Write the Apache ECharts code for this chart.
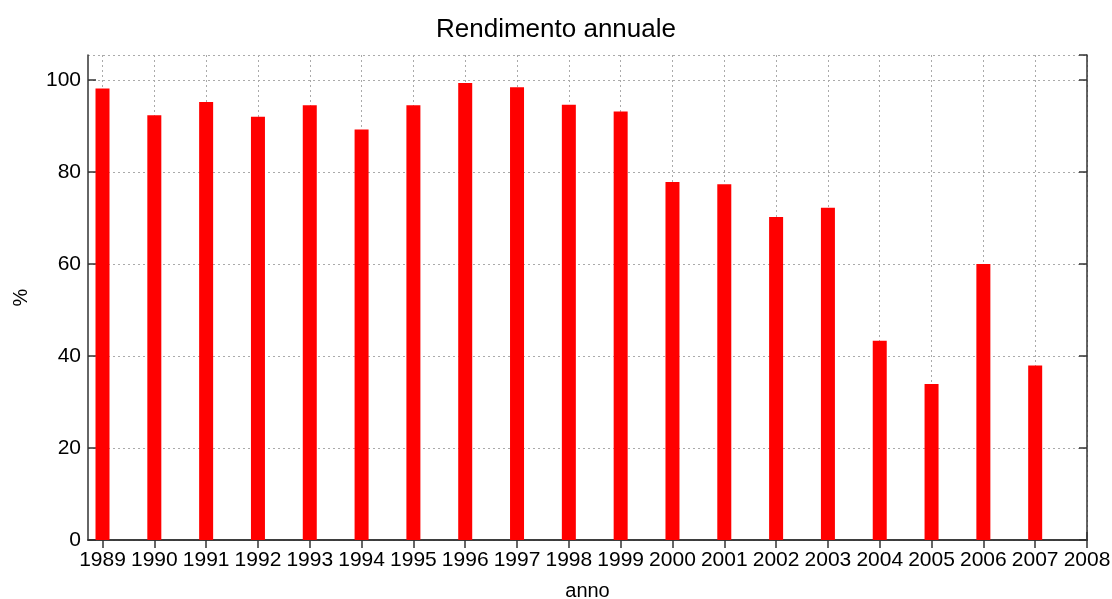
<!DOCTYPE html>
<html>
<head>
<meta charset="utf-8">
<script src="https://cdn.jsdelivr.net/npm/echarts@6/dist/echarts.min.js"></script>
<style>
  html, body { margin: 0; padding: 0; background: #fff; }
  #chart { width: 1112px; height: 599px; }
</style>
</head>
<body>
<div id="chart"></div>
<script>
// anni e rendimento (%)
var years = [1989, 1990, 1991, 1992, 1993, 1994, 1995, 1996, 1997, 1998,
             1999, 2000, 2001, 2002, 2003, 2004, 2005, 2006, 2007];
var rendimento = [98.1, 92.3, 95.2, 92.0, 94.5, 89.2, 94.5, 99.3, 98.4, 94.6,
                  93.1, 77.8, 77.3, 70.2, 72.2, 43.3, 33.9, 60.0, 37.9];
var xTicks = [1989, 1990, 1991, 1992, 1993, 1994, 1995, 1996, 1997, 1998, 1999,
              2000, 2001, 2002, 2003, 2004, 2005, 2006, 2007, 2008];

var font = 'Liberation Sans, Arial, sans-serif';
var axisColor = '#333';

var barData = years.map(function (y, i) { return [y, rendimento[i]]; });

var chart = echarts.init(document.getElementById('chart'));
chart.setOption({
  animation: false,
  title: {
    text: 'Rendimento annuale',
    left: 'center',
    top: 12,
    textStyle: { fontFamily: font, fontSize: 26, fontWeight: 'normal', color: '#000' }
  },
  grid: { left: 88, right: 25, top: 55, bottom: 59, outerBoundsMode: 'none' },
  xAxis: [
    {
      type: 'value',
      min: 1988.72,
      max: 2008,
      name: 'anno',
      nameLocation: 'middle',
      nameGap: 41,
      nameTextStyle: { fontFamily: font, fontSize: 20, color: '#000' },
      axisLine: { lineStyle: { color: axisColor, width: 1.5 } },
      axisTick: { inside: true, length: 8, customValues: xTicks, lineStyle: { color: axisColor, width: 1.5 } },
      axisLabel: {
        customValues: xTicks,
        margin: 10,
        fontFamily: font, fontSize: 21, color: '#000',
        formatter: function (v) { return String(Math.round(v)); }
      },
      splitLine: { show: true, lineStyle: { color: '#aaa', type: [2, 3], width: 1 } }
    },
    {
      type: 'value',
      position: 'top',
      min: 1988.72,
      max: 2008,
      axisLine: { show: true, lineStyle: { color: axisColor, width: 1.5 } },
      axisTick: { inside: true, length: 8, customValues: xTicks, lineStyle: { color: axisColor, width: 1.5 } },
      axisLabel: { show: false },
      splitLine: { show: false }
    }
  ],
  yAxis: [
    {
      type: 'value',
      min: 0,
      max: 105.4,
      interval: 20,
      name: '%',
      nameLocation: 'middle',
      nameGap: 57,
      nameTextStyle: { fontFamily: font, fontSize: 20, color: '#000' },
      axisLine: { show: true, lineStyle: { color: axisColor, width: 1.5 } },
      axisTick: { show: true, inside: true, length: 8, lineStyle: { color: axisColor, width: 1.5 } },
      axisLabel: {
        margin: 7, fontFamily: font, fontSize: 21, color: '#000',
        showMaxLabel: false
      },
      splitLine: { show: true, lineStyle: { color: '#aaa', type: [2, 3], width: 1 } }
    },
    {
      type: 'value',
      position: 'right',
      min: 0,
      max: 105.4,
      interval: 20,
      axisLine: { show: true, lineStyle: { color: axisColor, width: 1.5 } },
      axisTick: { show: true, inside: true, length: 8, lineStyle: { color: axisColor, width: 1.5 } },
      axisLabel: { show: false },
      splitLine: { show: false }
    }
  ],
  series: [
    {
      type: 'bar',
      data: barData,
      barWidth: 14,
      itemStyle: { color: '#ff0000' }
    }
  ]
});
</script>
</body>
</html>
